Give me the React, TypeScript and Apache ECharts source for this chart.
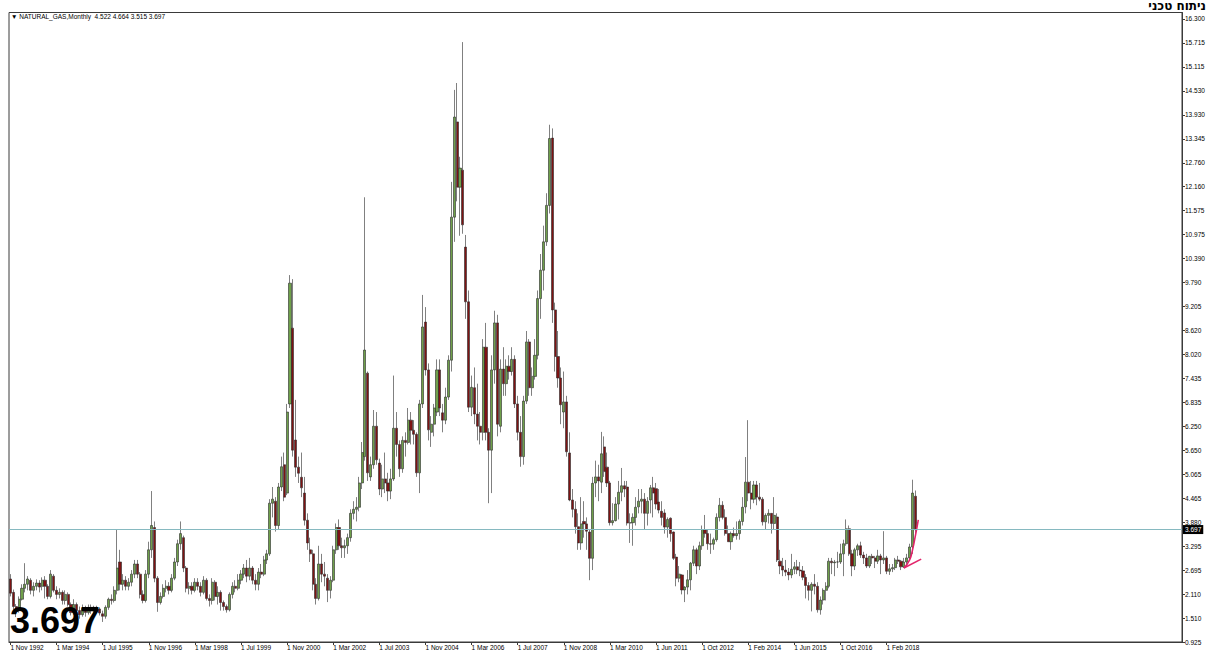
import React, { useEffect, useRef } from "react";
import * as echarts from "echarts";

// ---------- DATA ----------
// each bar: [open, close, low, high]
const bars1992 = [[2.48, 2.13, 2.05, 2.6], [2.15, 1.8, 1.72, 2.22]];
const bars1993 = [
  [1.8, 1.68, 1.54, 1.86], [1.7, 1.98, 1.65, 2.05], [1.98, 2.25, 1.95, 2.35], [2.25, 2.35, 2.15, 2.87],
  [2.35, 2.48, 2.2, 2.55], [2.45, 2.2, 2.1, 2.5], [2.2, 2.3, 2.05, 2.4], [2.3, 2.38, 2.2, 2.47],
  [2.38, 2.28, 2.15, 2.45], [2.3, 2.45, 2.2, 2.52], [2.45, 2.3, 2.0, 2.55], [2.3, 2.05, 1.98, 2.35],
];
const bars1994 = [
  [2.05, 2.6, 2.0, 2.7], [2.55, 2.2, 2.15, 2.6], [2.2, 2.1, 1.98, 2.3], [2.1, 2.15, 2.0, 2.25],
  [2.15, 1.95, 1.85, 2.2], [1.95, 2.1, 1.85, 2.2], [2.1, 1.85, 1.8, 2.15], [1.85, 1.65, 1.58, 1.9],
  [1.65, 1.85, 1.6, 1.98], [1.85, 1.7, 1.6, 1.9], [1.7, 1.6, 1.5, 1.8], [1.6, 1.75, 1.55, 1.85],
];
const bars1995 = [
  [1.75, 1.65, 1.55, 1.82], [1.65, 1.78, 1.6, 1.85], [1.78, 1.7, 1.62, 1.85], [1.7, 1.78, 1.62, 1.82],
  [1.78, 1.74, 1.65, 1.82], [1.74, 1.64, 1.58, 1.78], [1.62, 1.56, 1.42, 1.7], [1.56, 1.78, 1.5, 1.83],
  [1.78, 1.98, 1.72, 2.02], [1.98, 1.95, 1.85, 2.1], [1.95, 2.2, 1.9, 2.3], [2.2, 2.75, 2.1, 3.7],
];
const bars1996 = [
  [2.9, 2.35, 2.2, 3.2], [2.35, 2.45, 2.2, 2.6], [2.45, 2.3, 2.2, 2.55], [2.3, 2.4, 2.2, 2.5],
  [2.4, 2.6, 2.3, 2.7], [2.6, 2.85, 2.5, 2.95], [2.85, 2.6, 2.5, 2.95], [2.6, 2.1, 2.0, 2.65],
  [2.1, 1.95, 1.88, 2.2], [1.95, 2.6, 1.9, 2.7], [2.6, 3.2, 2.5, 3.4], [3.2, 3.8, 3.0, 4.65],
];
const bars1997 = [
  [3.75, 2.5, 2.4, 3.9], [2.5, 1.9, 1.67, 2.55], [1.9, 2.05, 1.85, 2.15], [2.05, 2.25, 2.0, 2.35],
  [2.25, 2.3, 2.15, 2.45], [2.3, 2.2, 2.1, 2.4], [2.2, 2.5, 2.15, 2.6], [2.5, 2.9, 2.45, 3.0],
  [2.9, 3.35, 2.8, 3.45], [3.35, 3.6, 3.2, 3.9], [3.5, 2.75, 2.65, 3.55], [2.75, 2.25, 2.15, 2.8],
];
const bars1998 = [
  [2.25, 2.3, 2.1, 2.4], [2.3, 2.2, 2.1, 2.4], [2.2, 2.4, 2.15, 2.5], [2.4, 2.3, 2.2, 2.5],
  [2.3, 2.15, 2.05, 2.4], [2.15, 2.45, 2.1, 2.55], [2.45, 2.0, 1.95, 2.5], [2.0, 1.95, 1.8, 2.1],
  [1.95, 2.4, 1.85, 2.5], [2.4, 2.05, 1.95, 2.45], [2.05, 2.15, 1.85, 2.3], [2.15, 1.9, 1.7, 2.2],
];
const bars1999 = [
  [1.9, 1.8, 1.7, 1.95], [1.8, 1.72, 1.65, 1.85], [1.72, 2.1, 1.68, 2.15], [2.1, 2.3, 2.0, 2.4],
  [2.3, 2.25, 2.15, 2.45], [2.25, 2.45, 2.2, 2.6], [2.45, 2.6, 2.35, 2.7], [2.6, 2.75, 2.5, 2.85],
  [2.75, 2.55, 2.4, 2.95], [2.55, 2.75, 2.45, 3.0], [2.75, 2.45, 2.35, 2.8], [2.45, 2.35, 2.2, 2.6],
];
const bars2000 = [
  [2.35, 2.65, 2.2, 2.75], [2.65, 2.6, 2.5, 2.85], [2.6, 2.95, 2.55, 3.05], [2.95, 3.1, 2.85, 3.2],
  [3.1, 4.35, 3.05, 4.45], [4.35, 4.45, 4.0, 4.75], [4.4, 3.8, 3.65, 4.5], [3.8, 4.75, 3.7, 4.85],
  [4.75, 5.25, 4.65, 5.5], [5.3, 4.5, 4.4, 5.6], [4.6, 6.6, 4.55, 6.8], [6.8, 9.78, 6.7, 9.98],
];
const bars2001 = [
  [8.67, 5.66, 5.5, 9.88], [5.91, 5.24, 5.0, 6.9], [5.24, 5.09, 4.85, 5.5], [4.99, 4.73, 4.5, 5.6],
  [4.6, 3.93, 3.8, 5.0], [3.93, 3.37, 3.2, 4.1], [3.2, 3.1, 2.9, 3.5], [3.1, 2.35, 2.2, 3.2],
  [2.35, 2.0, 1.85, 2.5], [2.0, 2.85, 1.95, 3.3], [2.85, 2.6, 2.4, 3.1], [2.6, 2.55, 2.3, 2.9],
];
const bars2002 = [
  [2.5, 2.2, 1.91, 2.6], [2.2, 2.45, 2.0, 2.55], [2.45, 3.2, 2.4, 3.3], [3.2, 3.75, 3.1, 3.85],
  [3.75, 3.3, 3.2, 3.95], [3.3, 3.25, 3.0, 3.5], [3.25, 3.3, 3.0, 3.45], [3.3, 3.5, 3.1, 3.6],
  [3.5, 4.1, 3.4, 4.2], [4.1, 4.2, 3.95, 4.4], [4.2, 4.25, 3.9, 4.5], [4.25, 4.85, 4.15, 5.0],
];
const bars2003 = [
  [4.85, 5.6, 4.7, 5.86], [5.5, 8.13, 5.4, 11.9], [7.56, 5.1, 4.9, 7.6], [5.0, 5.3, 4.9, 5.5],
  [5.3, 6.25, 5.2, 6.65], [6.25, 5.42, 5.3, 6.6], [5.34, 4.7, 4.55, 5.45], [4.7, 4.95, 4.5, 5.3],
  [4.95, 4.85, 4.6, 5.6], [4.85, 4.65, 4.4, 5.1], [4.65, 4.95, 4.45, 5.2], [4.95, 6.2, 4.9, 7.5],
];
const bars2004 = [
  [6.2, 5.8, 5.5, 6.6], [5.8, 5.2, 5.0, 5.9], [5.2, 5.9, 5.1, 6.0], [5.9, 5.85, 5.5, 6.1],
  [5.85, 6.4, 5.8, 6.7], [6.4, 6.15, 5.8, 6.6], [6.15, 6.05, 5.8, 6.4], [6.05, 5.1, 5.0, 6.1],
  [5.1, 6.8, 4.6, 6.9], [6.8, 8.7, 6.7, 9.49], [8.82, 7.64, 7.5, 9.19], [7.64, 6.16, 5.9, 7.8],
];
const bars2005 = [
  [6.1, 6.3, 5.74, 6.5], [6.3, 6.7, 6.0, 6.8], [6.6, 7.64, 6.5, 7.9], [7.64, 6.7, 6.5, 7.9],
  [6.58, 6.4, 6.1, 6.8], [6.4, 6.97, 6.3, 7.2], [6.97, 7.88, 6.9, 8.0], [7.88, 11.41, 7.6, 12.28],
  [11.41, 13.88, 10.8, 14.55], [13.76, 12.15, 11.8, 14.72], [12.15, 12.62, 10.95, 12.9], [12.57, 11.22, 11.0, 15.73],
];
const bars2006 = [
  [10.67, 9.32, 8.9, 10.97], [9.32, 6.72, 6.6, 9.6], [6.72, 7.21, 6.5, 7.5], [7.2, 6.55, 6.3, 7.7],
  [6.55, 6.25, 5.9, 7.3], [6.25, 6.1, 5.8, 6.6], [6.1, 8.2, 5.9, 8.4], [8.2, 6.1, 5.9, 8.8],
  [6.1, 5.66, 4.35, 6.2], [5.66, 7.64, 4.6, 8.0], [7.64, 8.8, 7.3, 9.1], [8.8, 6.3, 6.0, 9.0],
];
const bars2007 = [
  [6.25, 7.66, 6.1, 7.9], [7.66, 7.3, 7.0, 8.2], [7.3, 7.73, 7.0, 7.9], [7.73, 7.6, 7.4, 8.0],
  [7.6, 7.9, 7.5, 8.2], [7.9, 6.8, 6.7, 8.0], [6.8, 6.1, 5.9, 7.0], [6.1, 5.5, 5.25, 6.5],
  [5.5, 6.87, 5.3, 7.0], [6.87, 8.33, 6.8, 8.6], [8.33, 7.2, 7.0, 8.4], [7.2, 7.48, 7.0, 7.7],
];
const bars2008 = [
  [7.48, 8.0, 7.4, 8.4], [8.0, 9.4, 7.9, 9.6], [9.4, 10.1, 8.9, 10.5], [10.1, 10.8, 9.6, 11.2],
  [10.8, 11.7, 10.7, 12.0], [11.7, 13.35, 11.5, 13.69], [13.36, 9.12, 8.8, 13.6], [9.12, 7.97, 7.6, 9.3],
  [7.97, 7.44, 7.2, 8.6], [7.44, 6.78, 6.3, 7.7], [6.6, 6.85, 6.2, 7.6], [6.85, 5.62, 5.5, 7.0],
];
const bars2009 = [
  [5.59, 4.43, 4.4, 6.1], [4.43, 4.2, 4.0, 4.7], [4.2, 3.77, 3.6, 4.4], [3.77, 3.37, 3.2, 4.1],
  [3.37, 3.84, 3.2, 4.5], [3.9, 3.84, 3.5, 4.4], [3.84, 3.66, 3.2, 4.0], [3.64, 2.99, 2.45, 3.7],
  [2.99, 4.84, 2.7, 5.0], [4.85, 5.0, 4.5, 5.4], [5.0, 4.9, 4.4, 5.3], [4.87, 5.57, 4.6, 6.11],
];
// 2010 holds one extra (duplicated) monthly bar, as in the source feed
const bars2010 = [
  [5.74, 5.13, 5.0, 6.0], [5.24, 4.85, 4.75, 5.6], [4.85, 3.87, 3.8, 4.9], [3.87, 3.92, 3.8, 4.35],
  [3.92, 4.33, 3.9, 4.5], [4.33, 4.62, 3.95, 4.9], [4.62, 4.78, 4.4, 5.22], [4.78, 4.7, 4.5, 4.9],
  [4.75, 3.86, 3.8, 4.9], [3.86, 3.87, 3.37, 4.1], [3.87, 4.0, 3.3, 4.1], [4.0, 4.25, 3.8, 4.5],
  [4.26, 4.4, 4.1, 4.7],
];
const bars2011 = [
  [4.4, 4.45, 4.1, 4.7], [4.45, 4.1, 3.7, 4.6], [4.1, 4.4, 3.8, 4.5], [4.43, 4.73, 4.1, 4.8],
  [4.73, 4.6, 4.0, 5.0], [4.71, 4.33, 4.2, 4.85], [4.38, 4.18, 4.1, 4.7], [4.15, 4.0, 3.8, 4.4],
  [4.11, 3.76, 3.6, 4.2], [3.76, 3.95, 3.5, 4.0], [3.98, 3.6, 3.4, 4.0], [3.64, 2.99, 2.95, 3.65],
];
const bars2012 = [
  [3.02, 2.5, 2.3, 3.1], [2.5, 2.6, 2.4, 2.8], [2.58, 2.21, 2.1, 2.6], [2.21, 2.28, 1.91, 2.3],
  [2.28, 2.46, 2.1, 2.7], [2.46, 2.87, 2.2, 2.9], [2.87, 3.2, 2.8, 3.3], [3.2, 2.8, 2.6, 3.25],
  [2.8, 3.3, 2.7, 3.4], [3.3, 3.7, 3.2, 3.8], [3.7, 3.6, 3.5, 4.06], [3.6, 3.35, 3.2, 3.7],
];
const bars2013 = [
  [3.35, 3.34, 3.1, 3.6], [3.34, 3.45, 3.2, 3.5], [3.45, 4.0, 3.4, 4.1], [4.0, 4.3, 3.9, 4.48],
  [4.3, 4.0, 3.95, 4.4], [4.0, 3.6, 3.55, 4.2], [3.6, 3.4, 3.4, 3.8], [3.4, 3.6, 3.2, 3.65],
  [3.6, 3.55, 3.5, 3.75], [3.55, 3.6, 3.45, 3.9], [3.6, 3.9, 3.45, 3.95], [3.9, 4.25, 3.8, 4.5],
];
const bars2014 = [
  [4.26, 4.87, 4.1, 5.49], [4.87, 4.6, 4.4, 6.4], [4.6, 4.45, 4.2, 4.9], [4.45, 4.8, 4.35, 4.9],
  [4.8, 4.5, 4.3, 4.9], [4.5, 4.45, 4.4, 4.85], [4.45, 3.89, 3.8, 4.5], [3.89, 4.05, 3.7, 4.1],
  [4.05, 4.1, 3.85, 4.2], [4.1, 3.85, 3.6, 4.1], [3.85, 4.05, 3.7, 4.5], [4.01, 2.95, 2.9, 4.1],
];
const bars2015 = [
  [2.92, 2.8, 2.6, 3.2], [2.8, 2.7, 2.55, 3.0], [2.7, 2.65, 2.55, 2.95], [2.65, 2.58, 2.45, 2.75],
  [2.58, 2.72, 2.5, 3.1], [2.72, 2.78, 2.6, 2.9], [2.78, 2.7, 2.6, 2.95], [2.7, 2.68, 2.55, 2.9],
  [2.68, 2.52, 2.45, 2.8], [2.52, 2.32, 2.0, 2.6], [2.32, 2.2, 1.95, 2.4], [2.2, 2.35, 1.68, 2.4],
];
const bars2016 = [
  [2.35, 2.3, 2.1, 2.6], [2.3, 1.72, 1.65, 2.4], [1.72, 1.96, 1.6, 2.05], [1.96, 2.2, 1.85, 2.25],
  [2.2, 2.3, 1.95, 2.4], [2.3, 2.92, 2.25, 3.0], [2.92, 2.88, 2.6, 3.0], [2.88, 2.9, 2.55, 2.95],
  [2.9, 2.9, 2.75, 3.15], [2.9, 3.1, 2.85, 3.35], [3.1, 3.35, 2.55, 3.45], [3.35, 3.72, 3.3, 3.95],
];
const bars2017 = [
  [3.72, 3.1, 3.05, 3.8], [3.1, 2.8, 2.55, 3.2], [2.8, 3.2, 2.7, 3.25], [3.2, 3.3, 3.05, 3.35],
  [3.3, 3.07, 3.0, 3.4], [3.07, 3.0, 2.85, 3.15], [3.0, 2.8, 2.75, 3.1], [2.8, 3.04, 2.75, 3.05],
  [3.04, 3.0, 2.85, 3.1], [3.0, 2.92, 2.75, 3.05], [2.92, 3.05, 2.85, 3.2], [3.05, 2.95, 2.6, 3.1],
];
const bars2018 = [
  [2.95, 3.0, 2.85, 3.66], [3.0, 2.67, 2.6, 3.05], [2.67, 2.73, 2.58, 2.85], [2.73, 2.76, 2.65, 2.85],
  [2.76, 2.95, 2.7, 3.0], [2.95, 2.92, 2.85, 3.05], [2.92, 2.78, 2.7, 2.95], [2.78, 2.9, 2.75, 3.0],
  [2.9, 3.0, 2.8, 3.1], [3.0, 3.27, 2.95, 3.35], [3.27, 4.6, 3.1, 4.93], [4.522, 3.697, 3.515, 4.664],
];

const yTickLabels = [
  "0.925", "1.510", "2.110", "2.695", "3.295", "3.880", "4.465", "5.065", "5.650",
  "6.250", "6.835", "7.435", "8.020", "8.620", "9.205", "9.790", "10.390", "10.975",
  "11.575", "12.160", "12.760", "13.345", "13.930", "14.530", "15.115", "15.715", "16.300",
];
const Y_MIN = 0.925;
const Y_TOP_LABEL = 16.3;
const Y_MAX = 16.46;

const LAST_PRICE = 3.697;
const INFO_TEXT = "NATURAL_GAS,Monthly  4.522 4.664 3.515 3.697";
const TITLE_TEXT = "ניתוח טכני";

// hand-drawn annotation strokes, in (bar index, price)
const arrowCurve = [[310.2, 2.75], [311.6, 2.95], [312.8, 3.2], [314, 3.55], [315.4, 3.94]];
const arrowLine = [[310.2, 2.75], [316, 2.97]];

const MONTHS = ["Jan", "Feb", "Mar", "Apr", "May", "Jun", "Jul", "Aug", "Sep", "Oct", "Nov", "Dec"];
const START_YEAR = 1992;
const START_MONTH = 10; // November
const EXTRA_BAR_INDEX = 213;
const TOTAL_SLOTS = 407;
const LABEL_EVERY = 16;

const allBars = [
  ...bars1992, ...bars1993, ...bars1994, ...bars1995, ...bars1996, ...bars1997, ...bars1998,
  ...bars1999, ...bars2000, ...bars2001, ...bars2002, ...bars2003, ...bars2004, ...bars2005,
  ...bars2006, ...bars2007, ...bars2008, ...bars2009, ...bars2010, ...bars2011, ...bars2012,
  ...bars2013, ...bars2014, ...bars2015, ...bars2016, ...bars2017, ...bars2018,
];

function buildDates(n: number) {
  const out: string[] = [];
  let m = 0;
  for (let i = 0; i < n; i++) {
    if (i === EXTRA_BAR_INDEX) m--;
    const mm = START_MONTH + m;
    out.push(`1 ${MONTHS[mm % 12]} ${START_YEAR + Math.floor(mm / 12)}`);
    m++;
  }
  return out;
}

const FONT = "'Liberation Sans', 'DejaVu Sans', sans-serif";

export default function App() {
  const ref = useRef<HTMLDivElement>(null);
  useEffect(() => {
    if (!ref.current) return;
    const chart = echarts.init(ref.current, undefined, { renderer: "svg" });
    const n = allBars.length;
    const dates = buildDates(n);
    const slots = Array.from({ length: TOTAL_SLOTS }, (_, i) => String(i));
    const step = (Y_TOP_LABEL - Y_MIN) / (yTickLabels.length - 1);
    const showLabel = (i: number) => i % LABEL_EVERY === 0 && i < n;

    chart.setOption({
      animation: false,
      backgroundColor: "#ffffff",
      grid: {
        left: 9, top: 12.5, right: 29, bottom: 10,
        show: true, borderColor: "#3a3a3a", borderWidth: 1, backgroundColor: "#ffffff",
      },
      xAxis: {
        type: "category",
        data: slots,
        boundaryGap: true,
        axisLine: { show: true, lineStyle: { color: "#3a3a3a", width: 1 } },
        axisTick: { show: true, alignWithLabel: true, interval: (i: number) => showLabel(i), length: 3, lineStyle: { color: "#3a3a3a" } },
        axisLabel: {
          interval: (i: number) => showLabel(i),
          formatter: (_v: string, i: number) => dates[i] ?? "",
          align: "left", margin: 2, fontSize: 6.5, color: "#000", fontFamily: FONT,
        },
        splitLine: { show: false },
      },
      yAxis: {
        type: "value",
        position: "right",
        min: Y_MIN,
        max: Y_MAX,
        interval: step,
        scale: true,
        axisLine: { show: true, lineStyle: { color: "#3a3a3a", width: 1 } },
        axisTick: { show: true, length: 3, lineStyle: { color: "#3a3a3a" } },
        axisLabel: {
          showMaxLabel: false,
          margin: 3, fontSize: 6.5, color: "#000", fontFamily: FONT,
          formatter: (v: number) => {
            const k = Math.round((v - Y_MIN) / step);
            if (Math.abs(Y_MIN + k * step - v) > 1e-4) return "";
            return yTickLabels[k] ?? "";
          },
        },
        splitLine: { show: false },
      },
      series: [
        {
          type: "candlestick",
          data: allBars,
          barWidth: 2.6,
          itemStyle: {
            color: "#6fa04a",
            color0: "#7e1313",
            borderColor: "#2a2a2a",
            borderColor0: "#2a2a2a",
            borderWidth: 0.6,
          },
          markLine: {
            silent: true,
            symbol: "none",
            data: [{ yAxis: LAST_PRICE }],
            lineStyle: { color: "#86b9c0", width: 1, type: "solid" },
            label: {
              show: true, position: "end", distance: 1,
              formatter: () => LAST_PRICE.toFixed(3),
              color: "#fff", backgroundColor: "#000", padding: [1, 2, 1, 2],
              fontSize: 6.5, fontFamily: FONT,
            },
            emphasis: { disabled: true },
          },
          z: 3,
        },
        {
          type: "line", data: arrowCurve, smooth: true, symbol: "none", silent: true,
          lineStyle: { color: "#e2246a", width: 1.6 }, z: 4,
        },
        {
          type: "line", data: arrowLine, symbol: "none", silent: true,
          lineStyle: { color: "#e2246a", width: 1.6 }, z: 4,
        },
      ],
      graphic: [
        {
          type: "text", left: 11, top: 13, z: 10,
          style: { text: "▼ " + INFO_TEXT, fontSize: 6.5, fontFamily: FONT, fill: "#000" },
        },
        {
          type: "text", x: 10, y: 638, z: 10,
          style: {
            text: LAST_PRICE.toFixed(3), fontSize: 36, fontWeight: "bold", fontFamily: "'Liberation Sans', Arial, sans-serif",
            fill: "#000", textVerticalAlign: "bottom",
          },
        },
        {
          type: "text", x: 1206, y: 0, z: 10,
          style: {
            text: TITLE_TEXT, fontSize: 12, fontWeight: "bold", fontFamily: "'DejaVu Sans', sans-serif",
            fill: "#000", textAlign: "right", textVerticalAlign: "top",
          },
        },
      ],
    });
    return () => chart.dispose();
  }, []);
  return <div ref={ref} style={{ position: "fixed", left: 0, top: 0, width: 1211, height: 652 }} />;
}
